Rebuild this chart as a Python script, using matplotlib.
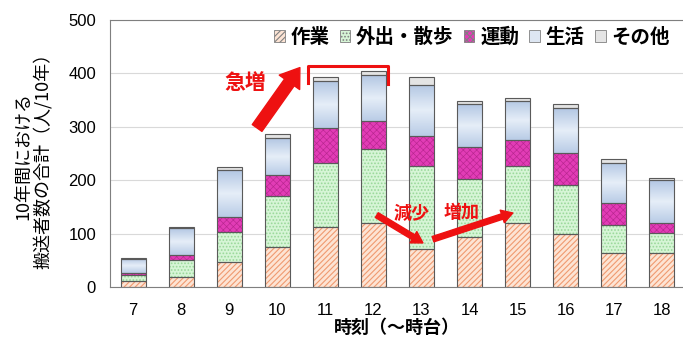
import numpy as np
import matplotlib
matplotlib.use("Agg")
import matplotlib.pyplot as plt
from matplotlib.patches import Patch
from matplotlib.colors import LinearSegmentedColormap

plt.rcParams['font.family'] = ['Noto Sans CJK JP', 'DejaVu Sans']
plt.rcParams['hatch.linewidth'] = 0.8

# data
hours = ['7', '8', '9', '10', '11', '12', '13', '14', '15', '16', '17', '18']
labels = ['作業', '外出・散歩', '運動', '生活', 'その他']
work = [11, 19, 47, 76, 112, 120, 72, 95, 120, 100, 64, 64]
outing = [12, 32, 56, 94, 120, 139, 154, 108, 106, 91, 52, 38]
exercise = [3, 9, 29, 40, 66, 52, 57, 60, 49, 61, 41, 19]
living = [27, 50, 87, 69, 87, 86, 96, 80, 74, 83, 76, 80]
other = [2, 3, 6, 7, 9, 7, 14, 6, 5, 8, 7, 4]

series = [work, outing, exercise, living, other]
faces = ['#fde4d4', '#d6f5d6', '#e23cb6', '#c6d6ec', '#e4e4e4']
hatch_cols = ['#f09a70', '#9ad89a', '#b8268f', '#c6d6ec', '#e4e4e4']
hatches = ['//////', '.....', 'xxxxx', None, None]
hatch_lw = [0.8, 0.8, 0.45, 0.8, 0.8]

fig = plt.figure(figsize=(6.83, 3.38), dpi=100)
ax = fig.add_axes([110 / 683, 1 - 287.3 / 338, 573 / 683, (287.3 - 20) / 338])

x = np.arange(len(hours))
w = 0.52
bottom = np.zeros(len(hours))
blue_cmap = LinearSegmentedColormap.from_list('bl', ['#b3c7e3', '#e6eef8', '#b9cce6'])
grad = np.linspace(0, 1, 64).reshape(-1, 1)
for i, vals in enumerate(series):
    vals = np.array(vals, dtype=float)
    if i == 3:
        for xi, b, v in zip(x, bottom, vals):
            ax.imshow(grad, extent=[xi - w / 2, xi + w / 2, b, b + v], cmap=blue_cmap,
                      aspect='auto', origin='upper', zorder=2)
    else:
        with plt.rc_context({'hatch.linewidth': hatch_lw[i]}):
            ax.bar(x, vals, w, bottom=bottom, color=faces[i], edgecolor=hatch_cols[i],
                   hatch=hatches[i], linewidth=0, zorder=2)
    ax.bar(x, vals, w, bottom=bottom, fill=False, edgecolor='#5a5a5a', linewidth=0.8, zorder=3)
    bottom += vals

ax.set_xlim(-0.48, 11.44)
ax.set_ylim(0, 500)
ax.set_yticks([0, 100, 200, 300, 400, 500])
ax.set_xticks(x)
ax.set_xticklabels(hours)
ax.tick_params(length=0, labelsize=12)
ax.tick_params(axis='y', pad=10)
ax.tick_params(axis='x', pad=11)
for t in ax.get_xticklabels() + ax.get_yticklabels():
    t.set_family('Liberation Sans')
ax.yaxis.grid(True, color='#d9d9d9', linewidth=0.8, zorder=0)
ax.set_axisbelow(True)
for s in ['left', 'top', 'bottom']:
    ax.spines[s].set_color('#7f7f7f')
ax.spines['right'].set_visible(False)

ax.set_xlabel('時刻（〜時台）', fontsize=13, fontweight='bold', labelpad=0)
fig.text(33 / 683, 1 - 156 / 338, '10年間における\n搬送者数の合計（人/10年）',
         rotation=90, ha='center', va='center', fontsize=13, linespacing=1.05)

handles = [Patch(facecolor=faces[i] if i != 3 else '#dde6f2', edgecolor='#808080',
                 hatch=hatches[i], linewidth=0.6) for i in range(5)]
ax.legend(handles, labels, ncol=5, loc='center left', bbox_to_anchor=(0.286, 0.935),
          frameon=False, borderaxespad=0, borderpad=0, handlelength=0.55, handleheight=0.55,
          handletextpad=0.3, columnspacing=0.52, prop={'size': 14, 'weight': 'bold'})

# annotations
red = '#ee1111'
ax.annotate('', xy=(3.47, 411), xytext=(2.58, 298),
            arrowprops=dict(arrowstyle='simple,head_length=1.3,head_width=1.8,tail_width=0.85',
                            color=red, mutation_scale=10, shrinkA=0, shrinkB=0))
ax.text(2.33, 384, '急増', color=red, fontsize=15, fontweight='bold', ha='center', va='center')
ax.plot([3.64, 3.64, 5.30, 5.30], [383, 414, 414, 380], color=red, linewidth=2.2,
        solid_joinstyle='round', zorder=4)
ax.annotate('', xy=(6.03, 83), xytext=(5.07, 135),
            arrowprops=dict(arrowstyle='simple,head_length=0.8,head_width=0.95,tail_width=0.4',
                            color=red, mutation_scale=10, shrinkA=0, shrinkB=0), zorder=5)
ax.annotate('', xy=(7.90, 139), xytext=(6.24, 90),
            arrowprops=dict(arrowstyle='simple,head_length=0.8,head_width=0.95,tail_width=0.4',
                            color=red, mutation_scale=10, shrinkA=0, shrinkB=0), zorder=5)
ax.text(5.80, 139, '減少', color=red, fontsize=13, fontweight='bold', ha='center', va='center', zorder=5)
ax.text(6.84, 139, '増加', color=red, fontsize=13, fontweight='bold', ha='center', va='center', zorder=5)

fig.savefig('out.png', dpi=100)
